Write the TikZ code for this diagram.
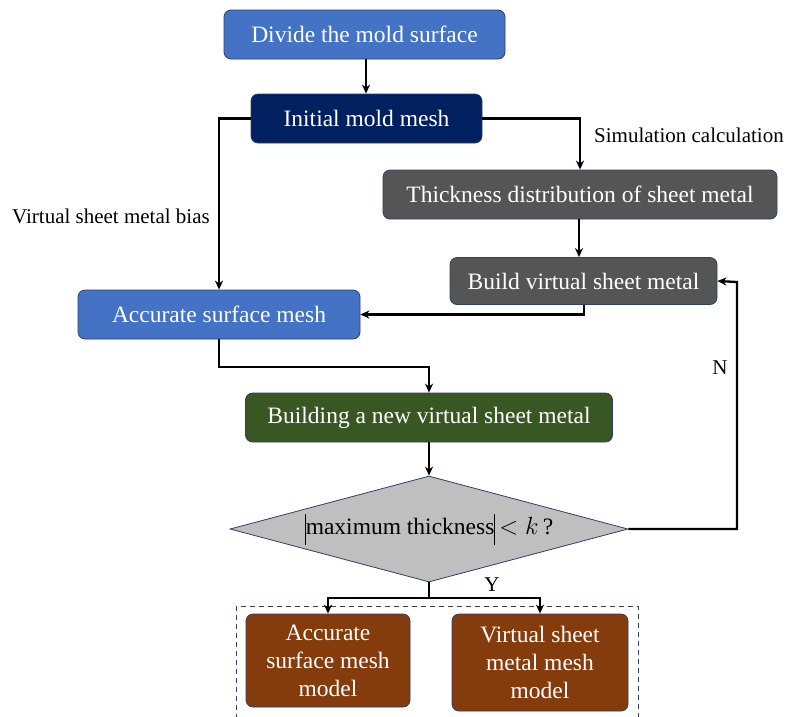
\documentclass[tikz,border=0pt]{standalone}
\usepackage{fontspec}
\setmainfont{Liberation Serif}
\usetikzlibrary{arrows.meta,shapes.geometric}
\definecolor{cblue}{HTML}{4472C4}
\definecolor{cnavy}{HTML}{002060}
\definecolor{cgrey}{HTML}{555555}
\definecolor{cgreen}{HTML}{385723}
\definecolor{cdiam}{HTML}{BFBFBF}
\definecolor{cbrown}{HTML}{843C0C}
\definecolor{cborder}{HTML}{2F3F66}
\newcommand{\tallbar}{\rule[-10pt]{1pt}{31pt}}
\tikzset{
  box/.style={draw=cborder, line width=0.8pt, rounded corners=7pt, text=white,
    font=\fontsize{23.5}{28}\selectfont, inner sep=0pt, align=center},
  lbl/.style={font=\fontsize{21}{25}\selectfont, inner sep=0pt, text=black},
  conn/.style={line width=2.3pt, black, -{Stealth[length=9pt,width=8pt]}},
  line/.style={line width=2.3pt, black},
}
\begin{document}
\begin{tikzpicture}[x=1pt,y=-1pt]
\useasboundingbox (0,0) rectangle (787,716);
\clip (0,0) rectangle (787,716);
\node[box, fill=cblue, minimum width=281, minimum height=49] (divide) at (364.5,34.5) {Divide the mold surface};
\node[box, fill=cnavy, minimum width=231, minimum height=49] (init) at (366.5,118.5) {Initial mold mesh};
\node[box, fill=cgrey, minimum width=394, minimum height=49] (thick) at (580,194.5) {Thickness distribution of sheet metal};
\node[box, fill=cgrey, minimum width=267, minimum height=47] (build) at (583.5,281) {Build virtual sheet metal};
\node[box, fill=cblue, minimum width=282, minimum height=49] (acc) at (219,314.5) {Accurate surface mesh};
\node[box, fill=cgreen, minimum width=367, minimum height=49] (newvs) at (429,417.5) {Building a new virtual sheet metal};
\node[diamond, draw=cborder, line width=0.8pt, fill=cdiam, minimum width=398, minimum height=106, inner sep=0pt] (dec) at (429,529) {};
\node[font=\fontsize{23.5}{28}\selectfont, inner sep=0pt] (dectext) at (dec.center) {\tallbar maximum thickness\tallbar\,$<k\,$?};
\node[box, fill=cbrown, minimum width=164, minimum height=93] (accmodel) at (328,660.5) {Accurate\\surface mesh\\model};
\node[box, fill=cbrown, minimum width=176, minimum height=97] (vsmodel) at (540,662.5) {Virtual sheet\\metal mesh\\model};
\draw[cborder, line width=1pt, dash pattern=on 5pt off 4pt] (236,606) rectangle (638,740);

\node[lbl, anchor=west] (sim) at (594,135) {Simulation calculation};
\node[lbl, anchor=west] (bias) at (12,216) {Virtual sheet metal bias};
\node[lbl] (nlab) at (720,368) {N};
\node[lbl] (ylab) at (492,585) {Y};

\coordinate (ysplit) at (429,598);
\draw[conn] (366,59) -- (init.north -| 366,0);
\draw[conn] (init.west) -| (acc.north);
\draw[conn] (init.east) -| (thick.north);
\draw[conn] (thick.south -| 579,0) -- (build.north -| 579,0);
\draw[conn] (build.south -| 584,0) |- (acc.east);
\draw[conn] (acc.south) |- (429,367) -- (newvs.north);
\draw[conn] (newvs.south) -- (dec.north);
\draw[conn] (dec.east) -| (737,282) -- (build.east);
\draw[line] (dec.south) -- (ysplit);
\draw[conn] (ysplit) -| (accmodel.north);
\draw[conn] (ysplit) -| (vsmodel.north);
\end{tikzpicture}
\end{document}
